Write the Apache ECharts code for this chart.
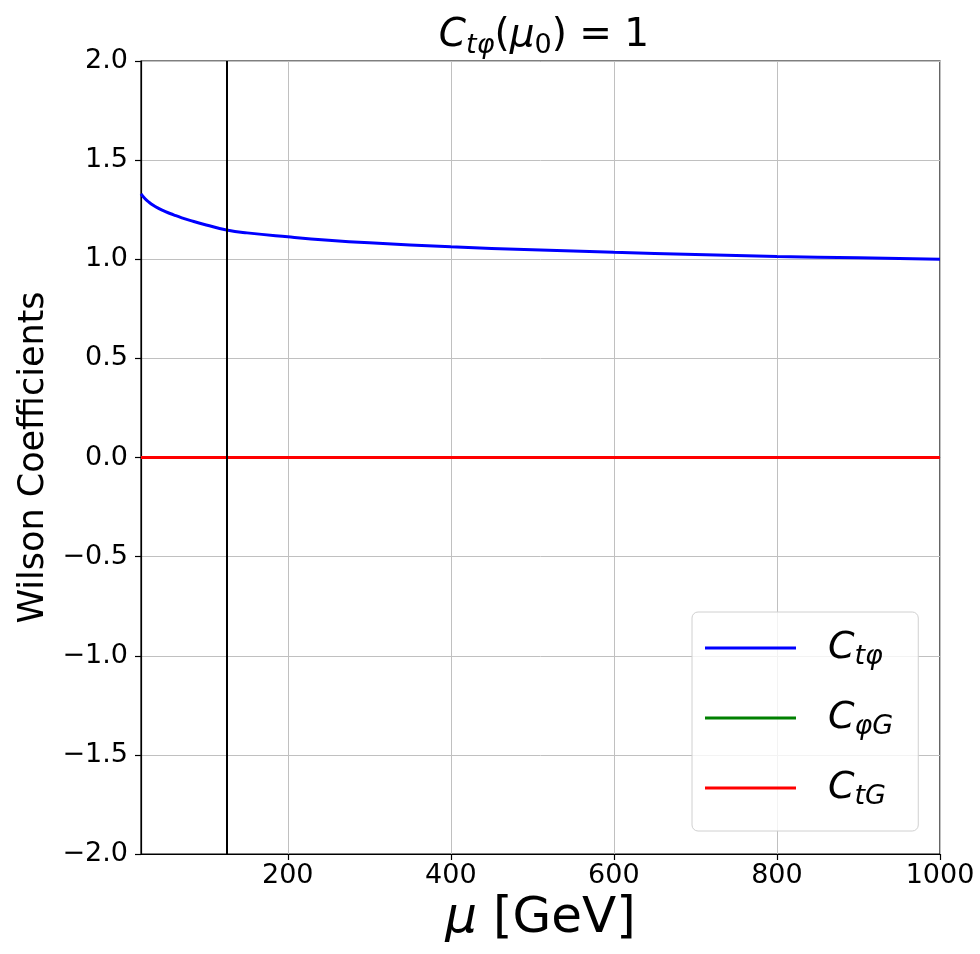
<!DOCTYPE html>
<html>
<head>
<meta charset="utf-8">
<script src="https://cdn.jsdelivr.net/npm/echarts@6/dist/echarts.min.js"></script>
<style>
html,body{margin:0;padding:0;background:#fff;}
#chart{width:980px;height:954px;}
</style>
</head>
<body>
<div id="chart"></div>
<script>
// scale mu [GeV]
const muValues = [20, 25, 30, 35, 40, 50, 60, 70, 80, 100, 125, 150, 200, 250, 300, 400, 500, 600, 700, 800, 900, 1000];
// Wilson coefficients
const cTphi = [1.330, 1.305, 1.287, 1.272, 1.260, 1.240, 1.224, 1.209, 1.196, 1.173, 1.148, 1.133, 1.113, 1.096, 1.083, 1.063, 1.048, 1.035, 1.024, 1.014, 1.007, 1.000];
const cPhiG = [0, 0, 0, 0, 0, 0, 0, 0, 0, 0, 0, 0, 0, 0, 0, 0, 0, 0, 0, 0, 0, 0];
const cTG   = [0, 0, 0, 0, 0, 0, 0, 0, 0, 0, 0, 0, 0, 0, 0, 0, 0, 0, 0, 0, 0, 0];
const xTicks = [200, 400, 600, 800, 1000];
const higgsMass = 125;
const seriesNames = ['Ctφ', 'CφG', 'CtG'];
const legendRich = {
  'Ctφ': '{c|C}{s|tφ}',
  'CφG': '{c|C}{s|φG}',
  'CtG': '{c|C}{s|tG}'
};

const pairs = arr => muValues.map((m, i) => [m, arr[i]]);
const FONT = 'DejaVu Sans';

const chart = echarts.init(document.getElementById('chart'), null, {renderer: 'canvas'});
chart.setOption({
  animation: false,
  backgroundColor: '#fff',
  title: {
    text: '{c|C}{s|tφ}{p|(}{m|μ}{s0|0}{p|) = 1}',
    left: 539,
    textAlign: 'center',
    top: 7,
    textStyle: {
      fontWeight: 'normal',
      rich: {
        c: {fontFamily: FONT, fontSize: 39, fontStyle: 'italic', fontWeight: 'normal', color: '#000', lineHeight: 47},
        s: {fontFamily: FONT, fontSize: 27, fontStyle: 'italic', fontWeight: 'normal', color: '#000', lineHeight: 27, verticalAlign: 'bottom', padding: [4, 0, 0, 0]},
        p: {fontFamily: FONT, fontSize: 39, fontWeight: 'normal', color: '#000', lineHeight: 47},
        m: {fontFamily: FONT, fontSize: 39, fontStyle: 'italic', fontWeight: 'normal', color: '#000', lineHeight: 47},
        s0: {fontFamily: FONT, fontSize: 27, fontWeight: 'normal', color: '#000', lineHeight: 27, verticalAlign: 'bottom', padding: [4, 0, 0, 0]}
      }
    }
  },
  legend: {
    orient: 'vertical',
    left: 692,
    top: 612,
    padding: [17, 25, 21, 13],
    icon: 'rect',
    itemWidth: 91,
    itemHeight: 3,
    itemGap: 29,
    backgroundColor: 'rgba(255,255,255,0.8)',
    borderColor: '#d0d0d0',
    borderWidth: 1,
    borderRadius: 6,
    data: seriesNames,
    formatter: name => legendRich[name],
    textStyle: {
      rich: {
        c: {fontFamily: FONT, fontSize: 38, fontStyle: 'italic', color: '#000', lineHeight: 44, padding: [0, 0, 0, 27]},
        s: {fontFamily: FONT, fontSize: 27, fontStyle: 'italic', color: '#000', lineHeight: 27, verticalAlign: 'bottom', padding: [10, 0, 0, 0]}
      }
    }
  },
  grid: {
    left: 141, right: 40, top: 61, bottom: 100,
    show: true, borderColor: '#000', borderWidth: 1.2,
    containLabel: false
  },
  xAxis: {
    type: 'value',
    min: 20, max: 1000,
    name: '{m|μ} [GeV]',
    nameLocation: 'middle',
    nameGap: 30,
    nameTextStyle: {
      fontFamily: FONT, fontSize: 50, color: '#000',
      rich: {m: {fontFamily: FONT, fontSize: 50, fontStyle: 'italic', color: '#000'}}
    },
    axisLine: {show: true, onZero: false, lineStyle: {color: '#000', width: 1.2}},
    axisTick: {show: true, customValues: xTicks, length: 6, lineStyle: {color: '#000', width: 1.2}},
    axisLabel: {customValues: xTicks, fontFamily: FONT, fontSize: 27, color: '#000', margin: 8, formatter: v => String(v)},
    splitLine: {show: true, lineStyle: {color: '#c0c0c0', width: 1}}
  },
  yAxis: {
    type: 'value',
    min: -2, max: 2, interval: 0.5,
    name: 'Wilson Coefficients',
    nameLocation: 'middle',
    nameGap: 78,
    nameTextStyle: {fontFamily: FONT, fontSize: 35, color: '#000'},
    axisLine: {show: true, lineStyle: {color: '#000', width: 1.2}},
    axisTick: {show: true, length: 6, lineStyle: {color: '#000', width: 1.2}},
    axisLabel: {
      fontFamily: FONT, fontSize: 27, color: '#000', margin: 13,
      formatter: v => (v < 0 ? '−' : '') + Math.abs(v).toFixed(1)
    },
    splitLine: {show: true, lineStyle: {color: '#c0c0c0', width: 1}}
  },
  series: [
    {
      name: seriesNames[0], type: 'line', data: pairs(cTphi),
      symbol: 'none', smooth: true,
      lineStyle: {color: '#0000ff', width: 3}, itemStyle: {color: '#0000ff'}, z: 3
    },
    {
      name: seriesNames[1], type: 'line', data: pairs(cPhiG),
      symbol: 'none',
      lineStyle: {color: '#008000', width: 3}, itemStyle: {color: '#008000'}, z: 3
    },
    {
      name: seriesNames[2], type: 'line', data: pairs(cTG),
      symbol: 'none',
      lineStyle: {color: '#ff0000', width: 3}, itemStyle: {color: '#ff0000'}, z: 3,
      markLine: {
        silent: true, symbol: ['none', 'none'], label: {show: false},
        lineStyle: {color: '#000', width: 2, type: 'solid'},
        data: [{xAxis: higgsMass}]
      }
    }
  ]
});
</script>
</body>
</html>
